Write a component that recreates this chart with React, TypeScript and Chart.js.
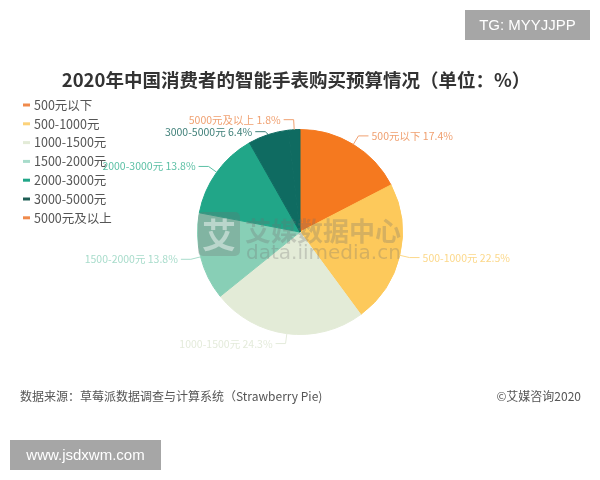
import React, { useEffect, useRef } from "react";
import { Chart, registerables } from "chart.js";

Chart.register(...registerables);

const categories = ["500元以下", "500-1000元", "1000-1500元", "1500-2000元", "2000-3000元", "3000-5000元", "5000元及以上"];
const shares = [17.4, 22.5, 24.3, 13.8, 13.8, 6.4, 1.8];
const sliceColors = ["#F5791F", "#FDC95B", "#E3EBD7", "#88CFB6", "#21A688", "#0F6B61", "#0F6B61"];
const legendColors = ["#F08A4B", "#FCD27A", "#E3EBD7", "#A8DCCB", "#21A688", "#1E5E55", "#F08A4B"];
const labelColors = ["#F0A070", "#FCD88A", "#E4EBDB", "#A8DCCB", "#5CC0A5", "#3E7F78", "#F0A070"];

const titleText = "2020年中国消费者的智能手表购买预算情况（单位：%）";
const sourceText = "数据来源：草莓派数据调查与计算系统（Strawberry Pie)";
const copyrightText = "©艾媒咨询2020";
const topBadge = "TG: MYYJJPP";
const bottomBadge = "www.jsdxwm.com";

const CJK = '"Noto Sans CJK SC", "Noto Sans", sans-serif';

const decorPlugin = {
  id: "decor",
  afterDatasetsDraw(chart: any) {
    const ctx = chart.ctx;
    const meta = chart.getDatasetMeta(0);
    ctx.save();
    // watermark over pie
    const cy = 232;
    ctx.fillStyle = "rgba(110,110,110,0.28)";
    const bx = 198, by = 212, bw = 42, bh = 44;
    ctx.beginPath();
    ctx.roundRect(bx, by, bw, bh, 5);
    ctx.fill();
    ctx.fillStyle = "rgba(255,255,255,0.45)";
    ctx.font = `bold 34px ${CJK}`;
    ctx.textAlign = "center";
    ctx.textBaseline = "middle";
    ctx.fillText("艾", bx + bw / 2, by + bh / 2 + 1);
    ctx.fillStyle = "rgba(110,110,110,0.28)";
    ctx.textAlign = "left";
    ctx.font = `bold 26px ${CJK}`;
    ctx.fillText("艾媒数据中心", 245, cy - 1);
    ctx.font = `20px "DejaVu Sans", sans-serif`;
    ctx.fillText("data.iimedia.cn", 246, cy + 22);

    // labels with leader lines
    const len1 = 10, len2 = 10, gap = 12;
    const items: any[] = [];
    meta.data.forEach((arc: any, i: number) => {
      const p = arc.getProps(["x", "y", "startAngle", "endAngle", "outerRadius"], true);
      const mid = (p.startAngle + p.endAngle) / 2;
      const c = Math.cos(mid), s = Math.sin(mid);
      const x1 = p.x + c * p.outerRadius, y1 = p.y + s * p.outerRadius;
      const x2 = p.x + c * (p.outerRadius + len1), y2 = p.y + s * (p.outerRadius + len1);
      items.push({ i, side: c >= 0 ? 1 : -1, x1, y1, x2, y: y2 });
    });
    [1, -1].forEach((side) => {
      const arr = items.filter((d) => d.side === side).sort((a, b) => a.y - b.y);
      for (let k = 1; k < arr.length; k++) {
        if (arr[k].y < arr[k - 1].y + gap) arr[k].y = arr[k - 1].y + gap;
      }
    });
    ctx.font = `10.5px ${CJK}`;
    ctx.textBaseline = "middle";
    ctx.lineWidth = 1;
    items.forEach((d) => {
      const col = labelColors[d.i];
      const x3 = d.x2 + d.side * len2;
      ctx.strokeStyle = col;
      ctx.beginPath();
      ctx.moveTo(d.x1, d.y1);
      ctx.lineTo(d.x2, d.y);
      ctx.lineTo(x3, d.y);
      ctx.stroke();
      ctx.fillStyle = col;
      ctx.textAlign = d.side > 0 ? "left" : "right";
      ctx.fillText(`${categories[d.i]} ${shares[d.i].toFixed(1)}%`, x3 + d.side * 3, d.y);
    });

    // title
    ctx.fillStyle = "#333333";
    ctx.font = `bold 18.5px ${CJK}`;
    ctx.textAlign = "center";
    ctx.fillText(titleText, 296, 80);

    // legend
    ctx.font = `12.5px ${CJK}`;
    ctx.textAlign = "left";
    categories.forEach((name, i) => {
      const yy = 105 + i * 18.8;
      ctx.strokeStyle = legendColors[i];
      ctx.lineWidth = 3;
      ctx.beginPath();
      ctx.moveTo(23, yy);
      ctx.lineTo(30, yy);
      ctx.stroke();
      ctx.fillStyle = "#555555";
      ctx.fillText(name, 34, yy);
    });

    // footer
    ctx.font = `12px ${CJK}`;
    ctx.fillStyle = "#555555";
    ctx.textAlign = "left";
    ctx.fillText(sourceText, 20, 396);
    ctx.textAlign = "right";
    ctx.fillText(copyrightText, 581, 396);

    // badges
    ctx.fillStyle = "#A6A6A6";
    ctx.fillRect(465, 10, 125, 30);
    ctx.fillRect(10, 440, 151, 30);
    ctx.fillStyle = "#FFFFFF";
    ctx.font = `15px "Liberation Sans", Arial, sans-serif`;
    ctx.textAlign = "center";
    ctx.fillText(topBadge, 527.5, 25.5);
    ctx.fillText(bottomBadge, 85.5, 455.5);
    ctx.restore();
  },
};

export default function App() {
  const ref = useRef<HTMLCanvasElement | null>(null);
  useEffect(() => {
    if (!ref.current) return;
    const chart = new Chart(ref.current, {
      type: "pie",
      data: {
        labels: categories,
        datasets: [
          {
            data: shares,
            backgroundColor: sliceColors,
            borderColor: sliceColors,
            borderWidth: 1,
          },
        ],
      },
      options: {
        responsive: false,
        animation: false,
        layout: { padding: { left: 197, right: 197, top: 129, bottom: 145 } },
        plugins: {
          legend: { display: false },
          tooltip: { enabled: false },
          title: { display: false },
        },
      },
      plugins: [decorPlugin],
    });
    return () => chart.destroy();
  }, []);
  return (
    <div style={{ position: "absolute", left: 0, top: 0, width: 600, height: 480, background: "#fff" }}>
      <canvas ref={ref} width={600} height={480} style={{ width: 600, height: 480 }} />
    </div>
  );
}
